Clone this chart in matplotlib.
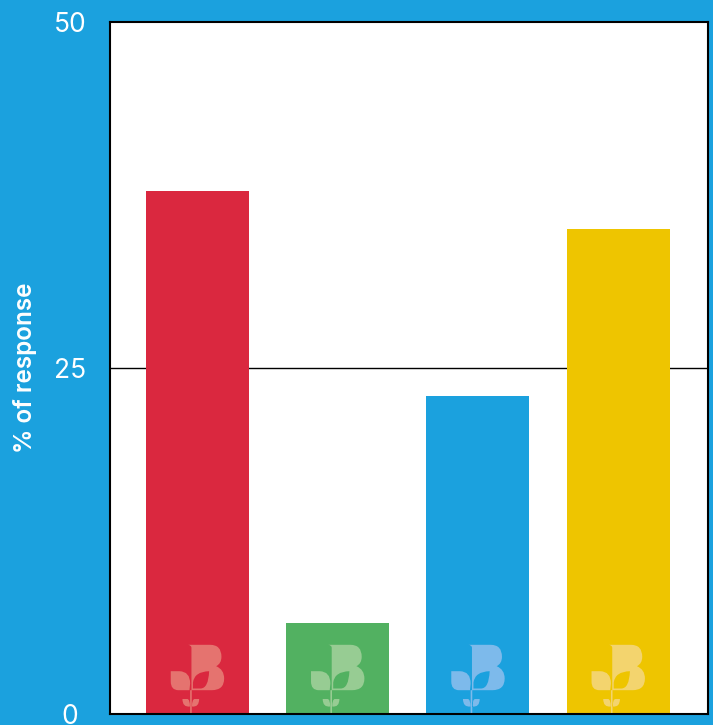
import matplotlib
matplotlib.use('Agg')
import matplotlib.pyplot as plt
from matplotlib.path import Path
from matplotlib.patches import PathPatch
from matplotlib.transforms import Affine2D

categories = ['a', 'b', 'c', 'd']
values = [37.8, 6.55, 22.95, 35.0]
colors = ['#DA283F', '#52B161', '#1BA1DE', '#EEC500']
logo_colors = ['#E5736F', '#97CC93', '#7DBAEB', '#F3D46E']
yticks = [0, 25, 50]
bg = '#1BA1DE'

plt.rcParams['font.family'] = ['Inter', 'DejaVu Sans']

W, H = 713, 725
fig = plt.figure(figsize=(W / 100, H / 100), dpi=100, facecolor=bg)
ax = fig.add_axes([109.5 / W, 1 - 713.5 / H, (708 - 109.5) / W, (713.5 - 22) / H])
ax.set_facecolor('white')

xpos = list(range(len(categories)))
ax.axhline(25, color='black', lw=1.0, zorder=1)
ax.bar(xpos, values, width=0.734, color=colors, zorder=2)
ax.set_xlim(-0.627, 3.64)
ax.set_ylim(0, 50)
ax.set_xticks([])
ax.set_yticks(yticks)
ax.tick_params(axis='y', length=0, pad=28.4, labelsize=19, labelcolor='white')
for lab in ax.get_yticklabels():
    lab.set_fontweight('normal')
    lab.set_ha('center')
    lab.set_va('center_baseline')
for s in ax.spines.values():
    s.set_linewidth(1.5)
    s.set_color('black')
    s.set_zorder(5)
fig.text(25 / W, 1 - 368 / H, '% of response', rotation=90, color='white',
         fontsize=17.5, fontweight='semibold', ha='center', va='center')

M, L, C, Z = Path.MOVETO, Path.LINETO, Path.CURVE3, Path.CLOSEPOLY

# sprout logo, units are pixels from the foot of the bar centre
body = [
    (M, -9.7, 68.7), (L, 12.7, 68.7), (C, 24, 68.7), (L, 24, 56.7), (C, 24, 50), (L, 18.7, 47.3),
    (C, 26.7, 44), (L, 26.7, 35), (C, 26.7, 23.3), (L, 14.3, 23.3),
    (L, -6, 23.3), (L, -6, 66), (C, -6.5, 68.7), (L, -9.7, 68.7), (Z, 0, 0),
]
# leaf cut out of the body, wound the other way
cut = [
    (M, -4.5, 25), (L, 3, 25), (C, 11, 25), (L, 11.7, 42.3),
    (C, -3, 42), (L, -4.5, 31), (L, -4.5, 25), (Z, 0, 0),
]
left_leaf = [
    (M, -26.7, 42.3), (L, -18, 42.3), (C, -7.3, 42), (L, -7.3, 30), (L, -8, 23.3),
    (L, -19, 23.3), (C, -26.7, 23.3), (L, -26.7, 32), (Z, 0, 0),
]
stem = [
    (M, -7.3, 23.3), (L, -5.7, 23.3), (L, -5.7, 0), (L, -7.3, 0), (Z, 0, 0),
]
low_left = [
    (M, -15, 14.5), (L, -10, 14.5), (C, -7.5, 14), (L, -7.5, 7), (C, -15, 6), (L, -15, 14.5), (Z, 0, 0),
]
low_right = [
    (M, 1.7, 14.5), (L, -3, 14.5), (C, -5.5, 14), (L, -5.5, 7), (C, 1.7, 6), (L, 1.7, 14.5), (Z, 0, 0),
]

verts, codes = [], []
for part in [body, cut, left_leaf, stem, low_left, low_right]:
    verts += [p[1:] for p in part]
    codes += [p[0] for p in part]
logo = Path(verts, codes)

for x, c in zip(xpos, logo_colors):
    patch = PathPatch(logo, facecolor=c, edgecolor='none', zorder=3, clip_on=False)
    ax.add_patch(patch)
    # add_patch sets data coords, so put the pixel transform on afterwards
    patch.set_transform(Affine2D().translate(*ax.transData.transform((x, 0))))

fig.savefig('out.png', dpi=100, facecolor=bg)
